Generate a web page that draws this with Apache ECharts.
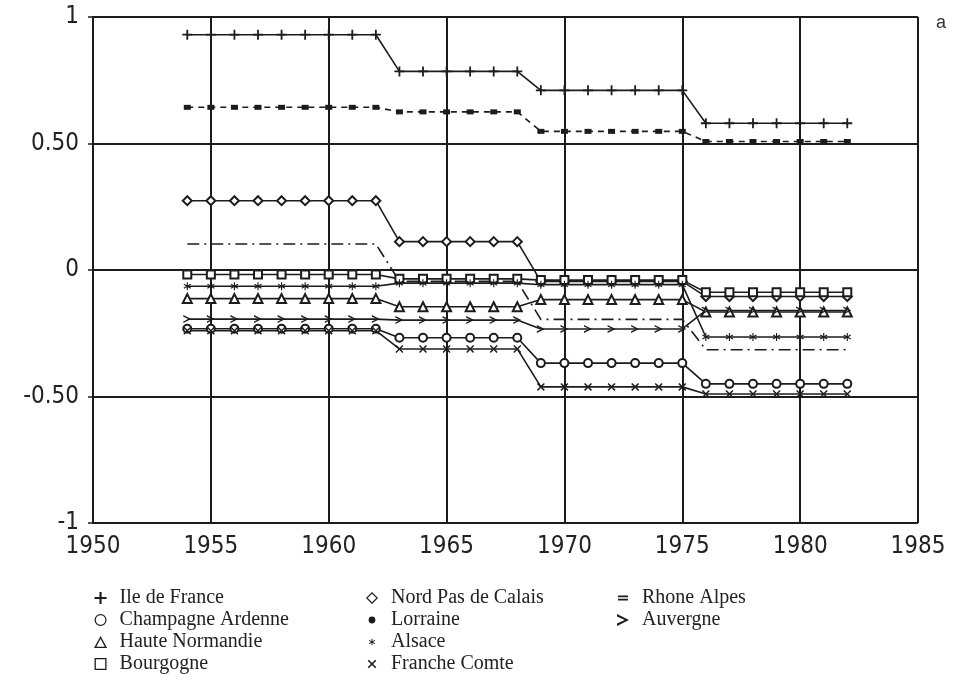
<!DOCTYPE html>
<html>
<head>
<meta charset="utf-8">
<script src="https://cdn.jsdelivr.net/npm/echarts@6/dist/echarts.min.js"></script>
<style>
  html, body { margin: 0; padding: 0; background: #fff; }
  #chart { width: 969px; height: 685px; }
</style>
</head>
<body>
<div id="chart"></div>
<script>
// years of observation
var years = [1954, 1955, 1956, 1957, 1958, 1959, 1960, 1961, 1962,
    1963, 1964, 1965, 1966, 1967, 1968,
    1969, 1970, 1971, 1972, 1973, 1974, 1975,
    1976, 1977, 1978, 1979, 1980, 1981, 1982];

// values
var ileDeFrance = [0.93, 0.93, 0.93, 0.93, 0.93, 0.93, 0.93, 0.93, 0.93,
    0.785, 0.785, 0.785, 0.785, 0.785, 0.785,
    0.71, 0.71, 0.71, 0.71, 0.71, 0.71, 0.71,
    0.58, 0.58, 0.58, 0.58, 0.58, 0.58, 0.58];
var rhoneAlpes = [0.643, 0.643, 0.643, 0.643, 0.643, 0.643, 0.643, 0.643, 0.643,
    0.625, 0.625, 0.625, 0.625, 0.625, 0.625,
    0.548, 0.548, 0.548, 0.548, 0.548, 0.548, 0.548,
    0.508, 0.508, 0.508, 0.508, 0.508, 0.508, 0.508];
var nordPasDeCalais = [0.274, 0.274, 0.274, 0.274, 0.274, 0.274, 0.274, 0.274, 0.274,
    0.112, 0.112, 0.112, 0.112, 0.112, 0.112,
    -0.045, -0.045, -0.045, -0.045, -0.045, -0.045, -0.045,
    -0.105, -0.105, -0.105, -0.105, -0.105, -0.105, -0.105];
var lorraine = [0.103, 0.103, 0.103, 0.103, 0.103, 0.103, 0.103, 0.103, 0.103,
    -0.045, -0.045, -0.045, -0.045, -0.045, -0.045,
    -0.195, -0.195, -0.195, -0.195, -0.195, -0.195, -0.195,
    -0.315, -0.315, -0.315, -0.315, -0.315, -0.315, -0.315];
var bourgogne = [-0.018, -0.018, -0.018, -0.018, -0.018, -0.018, -0.018, -0.018, -0.018,
    -0.035, -0.035, -0.035, -0.035, -0.035, -0.035,
    -0.04, -0.04, -0.04, -0.04, -0.04, -0.04, -0.04,
    -0.088, -0.088, -0.088, -0.088, -0.088, -0.088, -0.088];
var alsace = [-0.064, -0.064, -0.064, -0.064, -0.064, -0.064, -0.064, -0.064, -0.064,
    -0.052, -0.052, -0.052, -0.052, -0.052, -0.052,
    -0.058, -0.058, -0.058, -0.058, -0.058, -0.058, -0.058,
    -0.265, -0.265, -0.265, -0.265, -0.265, -0.265, -0.265];
var hauteNormandie = [-0.113, -0.113, -0.113, -0.113, -0.113, -0.113, -0.113, -0.113, -0.113,
    -0.145, -0.145, -0.145, -0.145, -0.145, -0.145,
    -0.117, -0.117, -0.117, -0.117, -0.117, -0.117, -0.117,
    -0.166, -0.166, -0.166, -0.166, -0.166, -0.166, -0.166];
var auvergne = [-0.194, -0.194, -0.194, -0.194, -0.194, -0.194, -0.194, -0.194, -0.194,
    -0.198, -0.198, -0.198, -0.198, -0.198, -0.198,
    -0.233, -0.233, -0.233, -0.233, -0.233, -0.233, -0.233,
    -0.16, -0.16, -0.16, -0.16, -0.16, -0.16, -0.16];
var champagneArdenne = [-0.232, -0.232, -0.232, -0.232, -0.232, -0.232, -0.232, -0.232, -0.232,
    -0.268, -0.268, -0.268, -0.268, -0.268, -0.268,
    -0.368, -0.368, -0.368, -0.368, -0.368, -0.368, -0.368,
    -0.45, -0.45, -0.45, -0.45, -0.45, -0.45, -0.45];
var francheComte = [-0.24, -0.24, -0.24, -0.24, -0.24, -0.24, -0.24, -0.24, -0.24,
    -0.312, -0.312, -0.312, -0.312, -0.312, -0.312,
    -0.462, -0.462, -0.462, -0.462, -0.462, -0.462, -0.462,
    -0.49, -0.49, -0.49, -0.49, -0.49, -0.49, -0.49];

var ink = '#1c1c1c';

// marker shapes
var PLUS = 'path://M4.1,0H5.9V4.1H10V5.9H5.9V10H4.1V5.9H0V4.1H4.1Z';
var CROSS = 'path://M1.3,0L5,3.7L8.7,0L10,1.3L6.3,5L10,8.7L8.7,10L5,6.3L1.3,10L0,8.7L3.7,5L0,1.3Z';
var CHEVRON = 'path://M0,0L10,5L0,10L0,8L6.5,5L0,2Z';
var STAR = 'path://M4.3,0H5.7V10H4.3ZM0.32,3.106L1.02,1.894L9.68,6.894L8.98,8.106ZM8.98,1.894L9.68,3.106L1.02,8.106L0.32,6.894Z';
// legend icons: hollow shapes as rings, small glyphs padded so they stay small
var RING_LEG = 'path://M6,0A6,6,0,1,1,5.99,0ZM6,1.2A4.8,4.8,0,1,0,6.01,1.2Z';
var TRI_LEG = 'path://M0,11L6,0L12,11ZM2.1,9.8L9.9,9.8L6,2.6Z';
var RECT_LEG = 'path://M0,0H11V11H0ZM1.2,1.2V9.8H9.8V1.2Z';
var DIAMOND_LEG = 'path://M6,0L12,6L6,12L0,6ZM6,1.7L1.7,6L6,10.3L10.3,6Z';
var CROSS_LEG = 'path://M-2,-2L-2,-2M12,12L12,12M1.3,0L5,3.7L8.7,0L10,1.3L6.3,5L10,8.7L8.7,10L5,6.3L1.3,10L0,8.7L3.7,5L0,1.3Z';
var STAR_LEG = 'path://M-4,-4L-4,-4M14,14L14,14M4.3,0H5.7V10H4.3ZM0.32,3.106L1.02,1.894L9.68,6.894L8.98,8.106ZM8.98,1.894L9.68,3.106L1.02,8.106L0.32,6.894Z';
var DOT_LEG = 'path://M0,0L0,0M12,12L12,12M6,2.6A3.4,3.4,0,1,1,5.99,2.6Z';
var EQ_LEG = 'path://M0,-1L0,-1M10,11L10,11M0,2.6H10V4.2H0ZM0,5.8H10V7.4H0Z';

function pairs(vals) {
    return years.map(function (y, i) { return [y, vals[i]]; });
}

function makeSeries(name, vals, symbol, size, extra) {
    var s = {
        name: name,
        type: 'line',
        data: pairs(vals),
        symbol: symbol,
        symbolSize: size,
        symbolKeepAspect: true,
        showSymbol: symbol !== 'none',
        lineStyle: { color: ink, width: 1.6 },
        itemStyle: { color: ink, borderWidth: 1.4 },
        z: 3
    };
    if (extra) {
        for (var k in extra) s[k] = extra[k];
    }
    return s;
}

var labelFont = "'Liberation Sans Narrow', 'DejaVu Sans Condensed', 'DejaVu Sans', sans-serif";
var legendFont = "'Liberation Serif', 'DejaVu Serif', serif";

var myChart = echarts.init(document.getElementById('chart'));

var legendBase = {
    orient: 'vertical',
    top: 588,
    padding: 0,
    itemWidth: 28,
    itemHeight: 12,
    itemGap: 2,
    selectedMode: false,
    textStyle: { fontFamily: legendFont, fontSize: 20, color: '#222', lineHeight: 20 },
    itemStyle: { borderWidth: 0 }
};

function legend(left, data) {
    var l = { left: left, data: data };
    for (var k in legendBase) l[k] = legendBase[k];
    return l;
}

var option = {
    backgroundColor: '#fff',
    animation: false,
    grid: { left: 93, right: 51, top: 17, bottom: 162 },
    xAxis: {
        type: 'value',
        min: 1950,
        max: 1985,
        interval: 5,
        axisLine: { show: true, lineStyle: { color: ink, width: 2 } },
        axisTick: { show: true, length: 5, lineStyle: { color: ink, width: 1.5 } },
        axisLabel: {
            margin: 12,
            fontFamily: labelFont,
            fontSize: 24,
            color: '#222',
            formatter: function (v) { return String(v); }
        },
        splitLine: { show: true, lineStyle: { color: ink, width: 2 } }
    },
    yAxis: {
        type: 'value',
        min: -1,
        max: 1,
        interval: 0.5,
        axisLine: { show: true, lineStyle: { color: ink, width: 2 } },
        axisTick: { show: true, length: 5, lineStyle: { color: ink, width: 1.5 } },
        axisLabel: {
            margin: 14,
            fontFamily: labelFont,
            fontSize: 24,
            color: '#222',
            formatter: function (v) {
                if (v === 0.5) return '0.50';
                if (v === -0.5) return '-0.50';
                return String(v);
            }
        },
        splitLine: { show: true, lineStyle: { color: ink, width: 2 } }
    },
    legend: [
        legend(94, [
            { name: 'Ile de France', icon: PLUS },
            { name: 'Champagne Ardenne', icon: RING_LEG },
            { name: 'Haute Normandie', icon: TRI_LEG },
            { name: 'Bourgogne', icon: RECT_LEG }
        ]),
        legend(366, [
            { name: 'Nord Pas de Calais', icon: DIAMOND_LEG },
            { name: 'Lorraine', icon: DOT_LEG },
            { name: 'Alsace', icon: STAR_LEG },
            { name: 'Franche Comte', icon: CROSS_LEG }
        ]),
        legend(617, [
            { name: 'Rhone Alpes', icon: EQ_LEG },
            { name: 'Auvergne', icon: CHEVRON }
        ])
    ],
    graphic: [{
        type: 'text',
        left: 936,
        top: 14,
        style: { text: 'a', font: "18px 'Liberation Sans', Arial, sans-serif", fill: '#333' }
    }],
    series: [
        makeSeries('Ile de France', ileDeFrance, PLUS, 10),
        makeSeries('Rhone Alpes', rhoneAlpes, 'rect', [7, 5], {
            lineStyle: { color: ink, width: 1.6, type: [6, 5] }
        }),
        makeSeries('Nord Pas de Calais', nordPasDeCalais, 'emptyDiamond', 9),
        makeSeries('Lorraine', lorraine, 'none', 6, {
            lineStyle: { color: ink, width: 1.6, type: [12, 5, 2, 5] }
        }),
        makeSeries('Bourgogne', bourgogne, 'emptyRect', 8),
        makeSeries('Alsace', alsace, STAR, 8),
        makeSeries('Haute Normandie', hauteNormandie, 'emptyTriangle', 9),
        makeSeries('Auvergne', auvergne, CHEVRON, 8),
        makeSeries('Champagne Ardenne', champagneArdenne, 'emptyCircle', 8),
        makeSeries('Franche Comte', francheComte, CROSS, 8)
    ]
};

myChart.setOption(option);
</script>
</body>
</html>
